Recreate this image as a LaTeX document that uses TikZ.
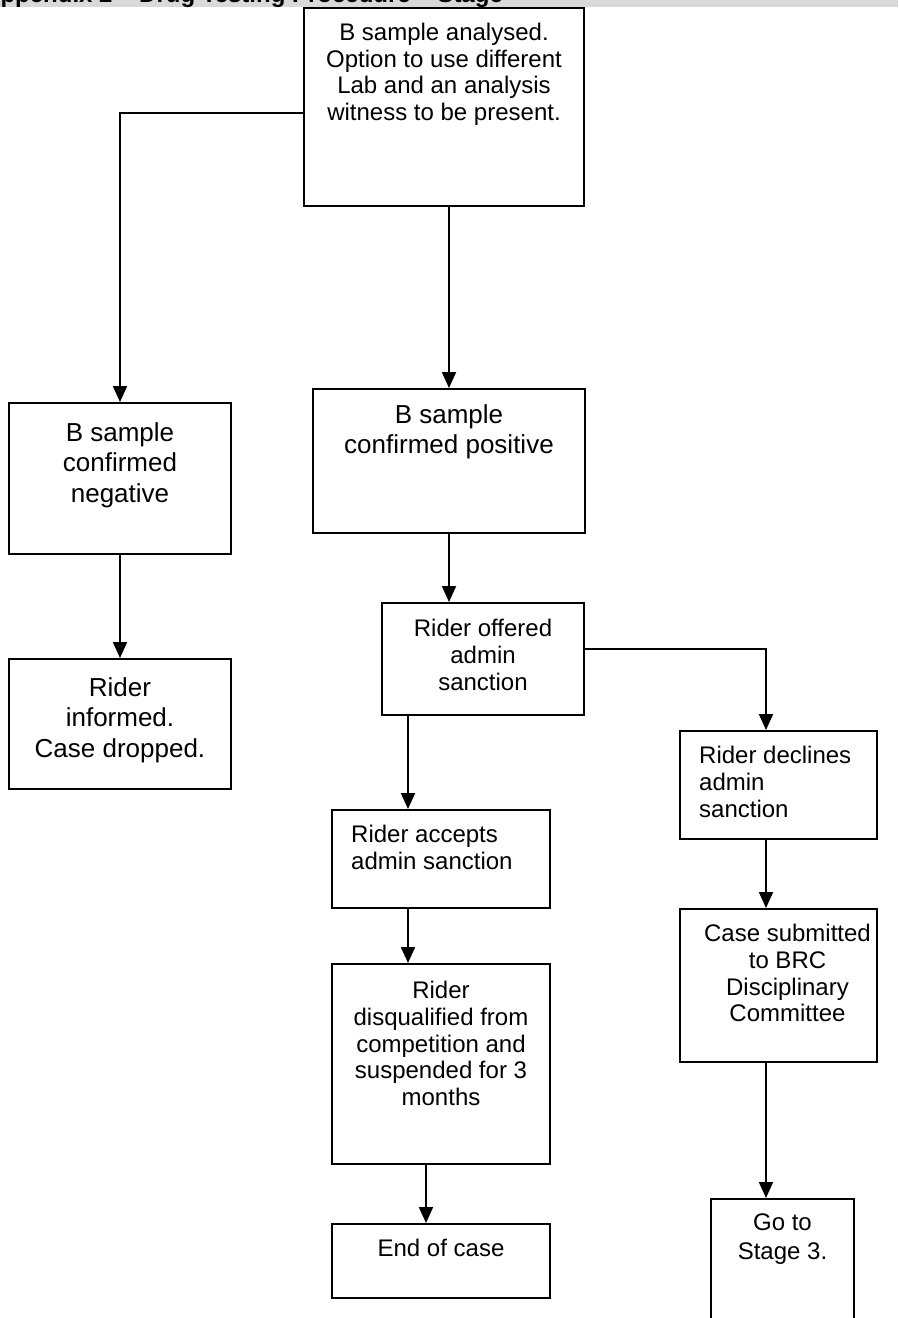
\documentclass[tikz,border=0pt]{standalone}
\usepackage{fontspec}
\setmainfont{Liberation Sans}
\usetikzlibrary{positioning,arrows.meta}

\tikzset{
  flowbox/.style={draw,line width=2pt,inner sep=0pt,anchor=north west},
  boxtxt/.style={inner sep=0pt,align=center,font=\fontsize{24}{26.7}\selectfont},
  bigtxt/.style={boxtxt,font=\fontsize{26}{30.5}\selectfont},
  flowarrow/.style={line width=2pt,-{Triangle[length=16pt,width=14pt]}}
}

\begin{document}
\begin{tikzpicture}[x=1pt,y=-1pt]
    \useasboundingbox (0,0) rectangle (898,1318);
    % header strip, text cut at the top
    \fill[gray!30] (0,0) rectangle (898,7);
    \begin{scope}
    \clip (0,0) rectangle (898,7);
    \node[anchor=base west,inner sep=0pt,font=\bfseries\fontsize{24}{26}\selectfont] (title) at (-17,2)
     {Appendix 2 -- Drug Testing Procedure -- Stage};
    \end{scope}

    \node[flowbox,minimum width=280pt,minimum height=198pt] (analysed) at (303,7) {};
    \node[boxtxt,below=16pt of analysed.north] (analysedtxt)
     {B sample analysed.\\Option to use different\\Lab and an analysis\\witness to be present.};

    \node[flowbox,minimum width=222pt,minimum height=151pt] (negative) at (8,402) {};
    \node[bigtxt,below=20pt of negative.north] (negativetxt) {B sample\\confirmed\\negative};

    \node[flowbox,minimum width=272pt,minimum height=144pt] (positive) at (312,388) {};
    \node[bigtxt,below=16pt of positive.north] (positivetxt) {B sample\\confirmed positive};

    \node[flowbox,minimum width=222pt,minimum height=130pt] (informed) at (8,658) {};
    \node[bigtxt,below=19pt of informed.north] (informedtxt) {Rider\\informed.\\Case dropped.};

    \node[flowbox,minimum width=202pt,minimum height=112pt] (offered) at (381,602) {};
    \node[boxtxt,below=17pt of offered.north] (offeredtxt) {Rider offered\\admin\\sanction};

    \node[flowbox,minimum width=197pt,minimum height=108pt] (declines) at (679,730) {};
    \node[boxtxt,align=left,below right=16pt and 20pt of declines.north west] (declinestxt)
     {Rider declines\\admin\\sanction};

    \node[flowbox,minimum width=218pt,minimum height=98pt] (accepts) at (331,809) {};
    \node[boxtxt,align=left,below right=16pt and 20pt of accepts.north west] (acceptstxt)
     {Rider accepts\\admin sanction};

    \node[flowbox,minimum width=218pt,minimum height=200pt] (disqualified) at (331,963) {};
    \node[boxtxt,below=18pt of disqualified.north] (disqualifiedtxt)
     {Rider\\disqualified from\\competition and\\suspended for 3\\months};

    \node[flowbox,minimum width=218pt,minimum height=74pt] (endcase) at (331,1223) {};
    \node[boxtxt,below=16pt of endcase.north] (endcasetxt) {End of case};

    \node[flowbox,minimum width=197pt,minimum height=153pt] (submitted) at (679,908) {};
    \node[boxtxt,below=16pt of submitted.north,xshift=9pt] (submittedtxt)
     {Case submitted\\to BRC\\Disciplinary\\Committee};

    % bottom edge falls below the page
    \node[flowbox,minimum width=143pt,minimum height=140pt] (stage) at (710,1198) {};
    \node[boxtxt,font=\fontsize{24}{29}\selectfont,below=16pt of stage.north] (stagetxt) {Go to\\Stage 3.};

    \draw[flowarrow] ([yshift=-6pt]analysed.west) -| (negative.north);
    \draw[flowarrow] (analysed.south -| positive.north) -- (positive.north);
    \draw[flowarrow] (negative.south) -- (informed.north);
    \draw[flowarrow] (positive.south) -- (positive.south |- offered.north);
    \draw[flowarrow] ([yshift=10pt]offered.east) -| ([xshift=87pt]declines.north west);
    \draw[flowarrow] ([xshift=27pt]offered.south west) -- ([xshift=27pt]offered.south west |- accepts.north);
    \draw[flowarrow] ([xshift=77pt]accepts.south west) -- ([xshift=77pt]disqualified.north west);
    \draw[flowarrow] ([xshift=95pt]disqualified.south west) -- ([xshift=95pt]endcase.north west);
    \draw[flowarrow] ([xshift=87pt]declines.south west) -- ([xshift=87pt]submitted.north west);
    \draw[flowarrow] ([xshift=87pt]submitted.south west) -- ([xshift=87pt]submitted.south west |- stage.north);
\end{tikzpicture}
\end{document}
